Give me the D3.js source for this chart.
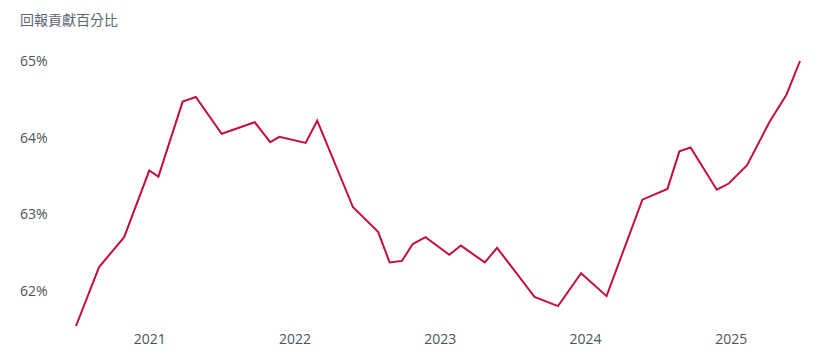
<!DOCTYPE html>
<html>
<head>
	<meta charset="utf-8">
	<title>回報貢獻百分比</title>
	<script type="text/javascript" src="https://cdnjs.cloudflare.com/ajax/libs/d3/7.8.5/d3.min.js"></script>
	<style>
		body { margin: 0; background: #fff; }
		text { font-family: "Open Sans", "Noto Sans CJK TC", sans-serif; }
	</style>
</head>
<body>
	<svg id="chart" width="820" height="362"></svg>
	<script type="text/javascript">
		// dates and values
		var dates = ["2020-07-01", "2020-08-28", "2020-10-30", "2021-01-01", "2021-01-24", "2021-03-26",
			"2021-04-28", "2021-07-02", "2021-09-23", "2021-11-01", "2021-11-24", "2022-01-29",
			"2022-02-27", "2022-05-28", "2022-07-30", "2022-08-28", "2022-09-28", "2022-10-25",
			"2022-11-26", "2023-01-25", "2023-02-23", "2023-04-24", "2023-05-25", "2023-08-27",
			"2023-10-25", "2023-12-22", "2024-02-24", "2024-05-24", "2024-07-26", "2024-08-25",
			"2024-09-22", "2024-11-27", "2024-12-27", "2025-02-11", "2025-04-09", "2025-05-21",
			"2025-06-24"];
		var values = [61.54, 62.31, 62.70, 63.57, 63.49, 64.47,
			64.53, 64.05, 64.20, 63.94, 64.01, 63.93,
			64.22, 63.09, 62.77, 62.37, 62.39, 62.61,
			62.70, 62.47, 62.59, 62.37, 62.56, 61.92,
			61.80, 62.23, 61.93, 63.19, 63.33, 63.82,
			63.87, 63.32, 63.40, 63.64, 64.21, 64.56,
			65.00];
		var yTicks = [62, 63, 64, 65];
		var xTicks = ["2021-01-01", "2022-01-01", "2023-01-01", "2024-01-01", "2025-01-01"];
		var title = "回報貢獻百分比";

		var parse = d3.timeParse("%Y-%m-%d");
		var data = dates.map(function (d, i) { return {date: parse(d), value: values[i]}; });

		var svg = d3.select("#chart");
		var plotLeft = 76, plotRight = 800, plotTop = 61, plotBottom = 326;

		var x = d3.scaleTime()
			.domain(d3.extent(data, function (d) { return d.date; }))
			.range([plotLeft, plotRight]);
		var y = d3.scaleLinear()
			.domain(d3.extent(values))
			.range([plotBottom, plotTop]);

		// title
		svg.append("text")
			.attr("x", 20)
			.attr("y", 25)
			.attr("fill", "#5c6774")
			.style("font-size", "14px")
			.text(title);

		// y axis, labels only
		var yAxis = svg.append("g")
			.attr("transform", "translate(20,0)")
			.call(d3.axisRight(y).tickValues(yTicks).tickSize(0).tickPadding(0)
				.tickFormat(function (d) { return d + "%"; }));
		yAxis.select(".domain").remove();
		yAxis.selectAll("text")
			.attr("fill", "#4a5461")
			.style("font-size", "14px");

		// x axis, labels only
		var xAxis = svg.append("g")
			.attr("transform", "translate(0,329)")
			.call(d3.axisBottom(x).tickValues(xTicks.map(parse)).tickSize(0).tickPadding(5)
				.tickFormat(d3.timeFormat("%Y")));
		xAxis.select(".domain").remove();
		xAxis.selectAll("text")
			.attr("fill", "#4a5461")
			.style("font-size", "14px");

		var line = d3.line()
			.x(function (d) { return x(d.date); })
			.y(function (d) { return y(d.value); });

		svg.append("path")
			.datum(data)
			.attr("d", line)
			.attr("fill", "none")
			.attr("stroke", "#c20f3e")
			.attr("stroke-width", 2)
			.attr("stroke-linejoin", "miter");
	</script>
</body>
</html>
